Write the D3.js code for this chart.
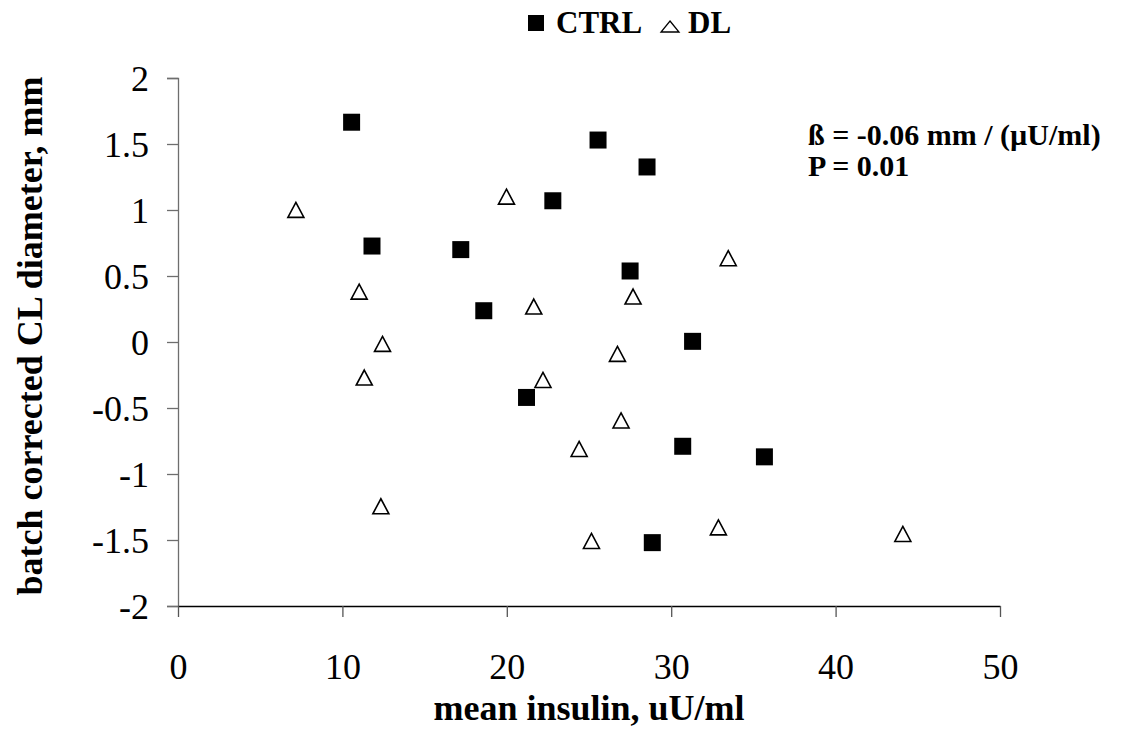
<!DOCTYPE html>
<html>
<head>
<meta charset="utf-8">
<script src="https://cdnjs.cloudflare.com/ajax/libs/d3/7.8.5/d3.min.js"></script>
<style>
  html, body { margin: 0; padding: 0; background: #fff; }
  svg { display: block; }
  svg text { fill: #000; }
</style>
</head>
<body>
<svg id="chart" width="1128" height="731"></svg>
<script>
// ---- data ----
const ctrlX = [10.56, 11.8, 17.2, 18.6, 25.55, 28.53, 22.8, 27.5, 31.3, 21.2, 30.7, 35.67, 28.85];
const ctrlY = [1.665, 0.727, 0.70, 0.237, 1.53, 1.326, 1.07, 0.538, 0.005, -0.42, -0.79, -0.87, -1.52];
const dlX = [7.17, 11.02, 12.44, 11.33, 12.34, 19.98, 21.64, 22.2, 24.4, 25.15, 26.73, 27.68, 33.47, 26.95, 32.87, 44.09];
const dlY = [0.995, 0.376, -0.02, -0.275, -1.25, 1.096, 0.263, -0.293, -0.816, -1.513, -0.096, 0.339, 0.629, -0.60, -1.41, -1.46];
const xTicks = [0, 10, 20, 30, 40, 50];
const yTicks = [2, 1.5, 1, 0.5, 0, -0.5, -1, -1.5, -2];
const seriesNames = ["CTRL", "DL"];
const xTitle = "mean insulin, uU/ml";
const yTitle = "batch corrected CL diameter, mm";
const annot = ["ß = -0.06 mm / (µU/ml)", "P = 0.01"];

// ---- drawing ----
const FONT = '"Liberation Serif", "LiberationSerif", "Times New Roman", Tinos, "Noto Serif", "DejaVu Serif", FreeSerif, "Nimbus Roman", Times, serif';
const svg = d3.select("#chart");
const x = d3.scaleLinear().domain([0, 50]).range([178, 1000]);
const y = d3.scaleLinear().domain([-2, 2]).range([606, 78]);

// y axis
const yAxis = svg.append("g").attr("transform", `translate(${x(0)},0)`)
  .call(d3.axisLeft(y).tickValues(yTicks).tickSize(11).tickPadding(18).tickFormat(d => String(d)));
yAxis.attr("font-family", FONT);
yAxis.select(".domain").attr("stroke", "#6e6e6e").attr("stroke-width", 1.3);
yAxis.selectAll(".tick line").attr("stroke", "#6e6e6e").attr("stroke-width", 1.3);
yAxis.selectAll(".tick text").attr("font-size", 36).attr("dy", "0.36em")
  .attr("font-family", FONT).attr("fill", "#000");

// x axis
const xAxis = svg.append("g").attr("transform", `translate(0,${y(-2)})`)
  .call(d3.axisBottom(x).tickValues(xTicks).tickSize(11).tickSizeOuter(0).tickPadding(36).tickFormat(d => String(d)));
xAxis.attr("font-family", FONT);
xAxis.select(".domain").attr("stroke", "#000").attr("stroke-width", 1.5);
xAxis.selectAll(".tick line").attr("stroke", "#555").attr("stroke-width", 1.3);
xAxis.selectAll(".tick text").attr("font-size", 36).attr("dy", "0.71em")
  .attr("font-family", FONT).attr("fill", "#000");

// points
const sq = d3.symbol().type(d3.symbolSquare).size(17 * 17);
const triPath = (w, h) => `M0,${-h * 0.55}L${w / 2},${h * 0.45}L${-w / 2},${h * 0.45}Z`;

svg.append("g").selectAll("path").data(ctrlX.map((v, i) => [v, ctrlY[i]]))
  .join("path")
  .attr("d", sq)
  .attr("transform", d => `translate(${x(d[0])},${y(d[1])})`)
  .attr("fill", "#000");

svg.append("g").selectAll("path").data(dlX.map((v, i) => [v, dlY[i]]))
  .join("path")
  .attr("d", triPath(16, 15))
  .attr("transform", d => `translate(${x(d[0])},${y(d[1])})`)
  .attr("fill", "#fff").attr("stroke", "#000").attr("stroke-width", 1.6)
  .attr("stroke-linejoin", "miter");

// legend
const lg = svg.append("g").attr("font-family", FONT);
lg.append("path").attr("d", d3.symbol().type(d3.symbolSquare).size(16 * 16))
  .attr("transform", "translate(536,23)").attr("fill", "#000");
lg.append("text").attr("x", 556).attr("y", 33).attr("font-size", 31).attr("font-weight", "bold")
  .attr("font-family", FONT).text(seriesNames[0]);
lg.append("path").attr("d", "M0,-6L9,5L-9,5Z")
  .attr("transform", "translate(670,27)").attr("fill", "#fff").attr("stroke", "#000").attr("stroke-width", 1.3);
lg.append("text").attr("x", 688).attr("y", 33).attr("font-size", 31).attr("font-weight", "bold")
  .attr("font-family", FONT).text(seriesNames[1]);

// annotation
svg.append("text").attr("x", 808).attr("y", 145).attr("font-size", 30).attr("font-weight", "bold")
  .attr("font-family", FONT).text(annot[0]);
svg.append("text").attr("x", 808).attr("y", 176).attr("font-size", 30).attr("font-weight", "bold")
  .attr("font-family", FONT).text(annot[1]);

// axis titles
svg.append("text").attr("x", 589).attr("y", 720).attr("text-anchor", "middle")
  .attr("font-size", 36).attr("font-weight", "bold").attr("font-family", FONT).text(xTitle);
svg.append("text").attr("transform", "translate(42,336) rotate(-90)").attr("text-anchor", "middle")
  .attr("font-size", 36).attr("font-weight", "bold").attr("font-family", FONT).text(yTitle);
</script>
</body>
</html>
